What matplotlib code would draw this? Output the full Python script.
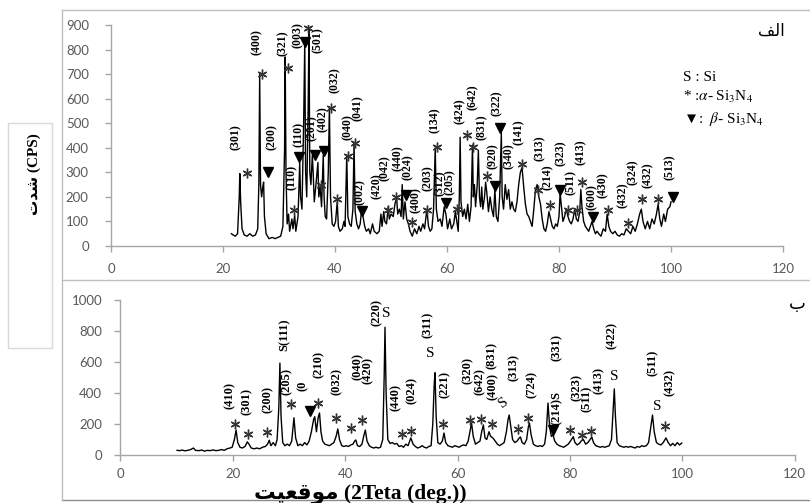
import matplotlib.pyplot as plt
from matplotlib.lines import Line2D
from matplotlib.patches import Rectangle

plt.rcParams['mathtext.fontset'] = 'stix'

# ---------------- data: pattern (a) ----------------
top_two_theta = [
    21.5, 21.8, 22.2, 22.6, 22.9, 23.0, 23.15, 23.4, 23.8, 24.3, 24.8, 25.3, 25.8, 26.2, 26.4, 26.55,
    26.7, 26.9, 27.1, 27.25, 27.4, 27.7, 28.2, 28.8, 29.3, 29.8, 30.3, 30.7, 31.0, 31.1, 31.25, 31.45,
    31.7, 31.9, 32.3, 32.5, 32.8, 33.0, 33.4, 33.7, 33.85, 34.1, 34.4, 34.6, 34.75, 34.95, 35.2, 35.35,
    35.5, 35.7, 35.95, 36.1, 36.3, 36.6, 36.95, 37.1, 37.35, 37.6, 37.9, 38.05, 38.25, 38.5, 38.8, 39.0,
    39.2, 39.5, 39.8, 40.1, 40.4, 40.6, 40.9, 41.3, 41.6, 41.8, 42.1, 42.3, 42.6, 42.9, 43.2, 43.4,
    43.6, 43.9, 44.2, 44.5, 44.8, 45.0, 45.3, 45.6, 46.0, 46.3, 46.7, 47.0, 47.5, 47.9, 48.2, 48.4,
    48.7, 48.9, 49.2, 49.5, 49.7, 50.0, 50.4, 50.7, 51.0, 51.2, 51.5, 51.8, 52.0, 52.2, 52.5, 52.8,
    53.1, 53.4, 53.8, 54.2, 54.6, 55.0, 55.3, 55.7, 56.0, 56.4, 56.7, 57.0, 57.3, 57.6, 57.9, 58.1,
    58.4, 58.8, 59.1, 59.5, 59.8, 60.1, 60.5, 60.8, 61.2, 61.5, 61.8, 62.0, 62.2, 62.35, 62.5, 62.8,
    63.1, 63.4, 63.7, 64.0, 64.3, 64.55, 64.7, 64.9, 65.1, 65.4, 65.6, 65.8, 66.0, 66.2, 66.4, 66.7,
    66.9, 67.1, 67.4, 67.7, 68.0, 68.3, 68.55, 68.8, 69.1, 69.4, 69.7, 69.85, 70.1, 70.4, 70.7, 71.0,
    71.3, 71.6, 71.9, 72.2, 72.5, 72.8, 73.1, 73.4, 73.7, 74.0, 74.3, 74.6, 74.9, 75.2, 75.5, 75.8,
    76.1, 76.4, 76.7, 77.0, 77.3, 77.6, 77.9, 78.2, 78.5, 78.8, 79.1, 79.4, 79.7, 80.0, 80.2, 80.4,
    80.7, 81.0, 81.3, 81.6, 81.9, 82.2, 82.5, 82.8, 83.1, 83.4, 83.7, 83.9, 84.1, 84.4, 84.7, 85.0,
    85.3, 85.6, 85.9, 86.2, 86.5, 86.8, 87.1, 87.5, 87.9, 88.3, 88.6, 88.9, 89.2, 89.6, 90.0, 90.4,
    90.8, 91.2, 91.6, 92.0, 92.4, 92.8, 93.2, 93.6, 94.0, 94.4, 94.7, 95.0, 95.4, 95.8, 96.2, 96.6,
    97.0, 97.4, 97.7, 98.0, 98.3, 98.7, 99.0, 99.4, 99.8, 100.0,
]
top_cps = [
    50, 45, 40, 50, 200, 295, 180, 70, 45, 40, 50, 40, 45, 70, 250, 700,
    250, 200, 240, 260, 120, 50, 30, 35, 30, 35, 40, 80, 400, 770, 300, 90,
    130, 60, 110, 70, 125, 60, 120, 340, 200, 150, 500, 830, 300, 200, 550, 890,
    300, 250, 370, 300, 180, 250, 340, 200, 240, 160, 370, 200, 120, 110, 300, 565,
    200, 90, 80, 100, 180, 80, 60, 70, 100, 80, 370, 120, 90, 80, 150, 420,
    140, 90, 70, 90, 160, 120, 80, 60, 70, 50, 90, 60, 50, 60, 130, 80,
    140, 100, 90, 160, 110, 130, 120, 170, 200, 130, 150, 120, 250, 110, 180, 110,
    90, 60, 40, 70, 50, 80, 60, 90, 70, 150, 80, 60, 70, 150, 400, 150,
    100, 110, 80, 160, 130, 70, 110, 70, 90, 140, 90, 60, 200, 443, 180, 120,
    150, 110, 170, 100, 160, 411, 200, 250, 160, 250, 390, 200, 160, 240, 150, 200,
    260, 220, 140, 200, 150, 120, 230, 120, 100, 200, 460, 200, 150, 250, 190, 230,
    150, 180, 150, 140, 180, 250, 300, 320, 240, 170, 130, 120, 100, 80, 150, 230,
    250, 200, 170, 110, 70, 60, 90, 140, 110, 80, 70, 90, 80, 120, 215, 170,
    100, 120, 150, 120, 100, 90, 110, 150, 110, 100, 140, 230, 160, 100, 80, 70,
    60, 80, 100, 70, 50, 60, 50, 40, 70, 60, 130, 80, 60, 50, 60, 45,
    40, 50, 45, 70, 60, 50, 80, 60, 90, 130, 150, 100, 70, 100, 70, 110,
    90, 130, 170, 110, 80, 130, 100, 150, 160, 180,
]
top_alpha_x = [24.3, 27.0, 31.6, 32.7, 35.2, 37.5, 39.3, 40.4, 42.3, 43.6, 49.5, 50.9, 53.8, 56.4,
               58.2, 61.7, 63.5, 64.6, 67.1, 73.4, 76.3, 78.4, 81.6, 83.2, 84.1, 88.8, 92.3, 94.8, 97.7]
top_alpha_y = [297, 700, 725, 147, 887, 248, 562, 191, 366, 419, 147, 199, 98, 147,
               405, 151, 452, 403, 285, 334, 228, 167, 147, 147, 261, 147, 94, 191, 191]
top_beta_x = [28.1, 33.6, 34.6, 36.4, 38.0, 44.8, 52.7, 59.8, 68.6, 69.5, 80.2, 86.0, 100.4]
top_beta_y = [302, 362, 830, 370, 387, 143, 208, 175, 244, 480, 228, 118, 200]
top_hkl = ['(301)', '(400)', '(200)', '(321)', '(003)', '(501)', '(110)', '(110)', '(201)', '(402)',
           '(032)', '(040)', '(041)', '(002)', '(420)', '(042)', '(440)', '(024)', '(400)', '(203)',
           '(134)', '(312)', '(205)', '(424)', '(642)', '(831)', '(920)', '(322)', '(340)', '(141)',
           '(313)', '(214)', '(323)', '(511)', '(413)', '(600)', '(430)', '(432)', '(324)', '(432)',
           '(513)']
top_hkl_x = [22.3, 26.1, 28.8, 30.7, 33.4, 37.0, 32.3, 33.6, 35.9, 37.8,
             40.0, 42.3, 44.1, 44.5, 47.5, 48.9, 51.3, 53.0, 54.4, 56.6,
             57.9, 58.8, 60.5, 62.2, 64.6, 66.2, 68.2, 68.9, 71.1, 72.9,
             76.6, 78.0, 80.4, 82.1, 83.9, 85.9, 87.9, 91.4, 93.2, 95.9,
             99.8]
top_hkl_y = [444, 830, 444, 826, 860, 840, 280, 456, 480, 517,
             676, 484, 562, 220, 244, 317, 358, 322, 187, 277,
             513, 256, 260, 550, 607, 484, 366, 582, 366, 464,
             399, 281, 378, 260, 383, 200, 248, 208, 301, 289,
             322]

# ---------------- data: pattern (b) ----------------
bot_two_theta = [
    10.1, 10.6, 11.0, 11.5, 12.0, 12.5, 13.0, 13.4, 14.0, 14.5, 15.0, 15.5, 16.0, 16.5, 17.0, 17.5,
    18.0, 18.5, 19.0, 19.5, 19.9, 20.3, 20.6, 20.9, 21.3, 21.7, 22.2, 22.6, 22.9, 23.3, 23.8, 24.3,
    24.8, 25.3, 25.8, 26.2, 26.5, 26.8, 27.2, 27.6, 27.9, 28.2, 28.4, 28.6, 28.9, 29.3, 29.7, 30.1,
    30.5, 30.9, 31.2, 31.6, 32.0, 32.4, 32.8, 33.2, 33.6, 34.0, 34.4, 34.6, 34.9, 35.2, 35.45, 35.7,
    36.0, 36.4, 36.8, 37.2, 37.6, 38.0, 38.4, 38.7, 39.0, 39.4, 39.8, 40.2, 40.6, 41.0, 41.4, 41.7,
    41.9, 42.2, 42.6, 43.0, 43.3, 43.6, 43.9, 44.3, 44.7, 45.1, 45.5, 45.9, 46.3, 46.7, 46.95, 47.1,
    47.3, 47.6, 48.0, 48.4, 48.8, 49.2, 49.6, 50.0, 50.4, 50.8, 51.2, 51.7, 52.1, 52.5, 52.9, 53.3,
    53.7, 54.1, 54.5, 54.9, 55.3, 55.6, 55.85, 56.0, 56.2, 56.5, 56.9, 57.3, 57.6, 57.9, 58.3, 58.7,
    59.1, 59.5, 59.9, 60.3, 60.7, 61.1, 61.5, 61.9, 62.2, 62.5, 62.8, 63.2, 63.6, 64.0, 64.3, 64.6,
    64.9, 65.2, 65.6, 65.9, 66.3, 66.7, 67.1, 67.5, 67.9, 68.3, 68.7, 69.0, 69.2, 69.5, 69.8, 70.2,
    70.6, 71.0, 71.2, 71.5, 71.9, 72.3, 72.6, 72.8, 73.1, 73.5, 73.9, 74.3, 74.7, 75.1, 75.5, 75.8,
    76.1, 76.4, 76.7, 77.0, 77.3, 77.7, 78.1, 78.5, 78.9, 79.3, 79.7, 80.1, 80.6, 80.9, 81.3, 81.7,
    82.0, 82.4, 82.8, 83.2, 83.6, 83.9, 84.2, 84.6, 85.0, 85.4, 85.8, 86.2, 86.6, 87.0, 87.4, 87.7,
    87.9, 88.1, 88.4, 88.8, 89.2, 89.6, 90.0, 90.4, 90.8, 91.2, 91.6, 92.0, 92.4, 92.8, 93.2, 93.6,
    94.0, 94.4, 94.7, 95.0, 95.4, 95.8, 96.2, 96.6, 97.1, 97.5, 97.9, 98.3, 98.7, 99.1, 99.5, 99.9,
]
bot_cps = [
    30, 28, 32, 27, 30, 35, 45, 30, 28, 32, 25, 30, 28, 33, 28, 30,
    35, 30, 40, 45, 50, 100, 160, 80, 50, 45, 55, 85, 70, 45, 40, 45,
    40, 50, 55, 70, 95, 60, 80, 60, 100, 300, 593, 250, 80, 60, 70, 60,
    90, 240, 110, 60, 70, 60, 80, 65, 90, 150, 230, 247, 150, 240, 271, 150,
    90, 70, 65, 60, 70, 80, 120, 168, 100, 60, 55, 60, 55, 65, 70, 90,
    97, 60, 55, 70, 120, 161, 90, 60, 50, 45, 50, 45, 50, 100, 500, 824,
    400, 100, 75, 80, 70, 75, 55, 60, 50, 70, 60, 110, 70, 55, 45, 50,
    60, 50, 45, 55, 60, 200, 450, 531, 250, 80, 70, 90, 142, 80, 60, 55,
    50, 60, 55, 50, 60, 65, 60, 90, 150, 206, 120, 70, 80, 90, 150, 194,
    110, 100, 150, 120, 110, 90, 70, 60, 70, 80, 150, 230, 258, 180, 100, 80,
    90, 110, 116, 80, 70, 100, 180, 206, 130, 70, 60, 55, 60, 55, 70, 150,
    335, 180, 120, 130, 90, 70, 60, 55, 50, 60, 70, 90, 118, 80, 65, 75,
    90, 100, 70, 80, 100, 116, 80, 60, 55, 50, 55, 50, 55, 60, 100, 300,
    426, 250, 80, 60, 55, 50, 55, 50, 55, 50, 45, 55, 50, 60, 55, 60,
    80, 180, 258, 150, 80, 70, 65, 80, 110, 80, 60, 75, 60, 80, 65, 77,
]
bot_alpha_x = [20.4, 22.7, 26.1, 30.4, 35.2, 38.4, 41.0, 43.0, 50.1, 51.7, 57.4, 62.2, 64.1, 66.1,
               70.8, 72.5, 80.0, 82.1, 83.7, 97.0]
bot_alpha_y = [200, 135, 148, 329, 335, 239, 174, 226, 135, 157, 200, 226, 232, 200,
               168, 239, 161, 129, 157, 187]
bot_beta_x = [33.8, 77.0]
bot_beta_y = [284, 161]
bot_hkl = ['(410)', '(301)', '(200)', 'S(111)', '(205)', '(0', '(210)', '(032)', '(040)', '(420)',
           '(220)', '(311)', '(440)', '(024)', '(221)', '(320)', '(642)', '(400)', '(831)', '(313)',
           '(724)', '(331)', '(214)S', '(323)', '(511)', '(413)', '(422)', '(511)', '(432)']
bot_hkl_x = [19.5, 22.5, 26.3, 29.3, 29.6, 32.5, 35.3, 38.5, 42.2, 44.1,
             45.6, 54.8, 49.1, 51.9, 57.8, 61.8, 63.9, 66.3, 66.1, 70.1,
             73.2, 77.7, 77.7, 81.3, 83.0, 85.1, 87.5, 94.8, 97.8]
bot_hkl_y = [387, 342, 355, 779, 473, 445, 581, 473, 574, 548,
             919, 839, 368, 419, 452, 548, 473, 441, 645, 565,
             452, 694, 306, 435, 361, 479, 769, 597, 465]
bot_si_x = [47.4, 55.2, 68.1, 87.9, 95.6]
bot_si_y = [916, 658, 335, 505, 312]
bot_si_rot = [0, 0, 35, 0, 0]

W, H = 810, 503
fig = plt.figure(figsize=(W / 100, H / 100), dpi=100)

serif = ['Liberation Serif', 'DejaVu Sans']
axis_grey = '#a6a6a6'
tick_grey = '#595959'


def fx(px):
    return px / W


def fy(py):
    return 1 - py / H


def style_axes(ax, ymax, ystep, ypad, xpad):
    ax.set_xlim(0, 120)
    ax.set_ylim(0, ymax)
    ax.set_xticks(range(0, 121, 20))
    ax.set_yticks(range(0, ymax + 1, ystep))
    for s in ['top', 'right']:
        ax.spines[s].set_visible(False)
    for s in ['left', 'bottom']:
        ax.spines[s].set_color(axis_grey)
        ax.spines[s].set_linewidth(1.0)
    ax.tick_params(axis='both', colors=axis_grey, labelcolor=tick_grey, length=4, width=1,
                   labelsize=9.5)
    ax.tick_params(axis='y', pad=ypad)
    ax.tick_params(axis='x', pad=xpad)
    for lab in ax.get_xticklabels() + ax.get_yticklabels():
        lab.set_fontfamily('Lato')
    ax.patch.set_alpha(0)


def draw_pattern(ax, tt, cps, ax_x, ax_y, bx, by):
    ax.plot(tt, cps, color='black', lw=1.0, zorder=2)
    ax.plot(ax_x, ax_y, linestyle='none', marker=(6, 2, 0), markersize=7,
            markeredgecolor='#333333', markeredgewidth=1.0, zorder=3)
    ax.plot(bx, by, linestyle='none', marker='v', markersize=7.5, color='black', zorder=3)


# ---- top pattern (a) ----
ax1 = fig.add_axes([fx(111), fy(246), 672 / W, 221 / H])
style_axes(ax1, 900, 100, 12, 8)
draw_pattern(ax1, top_two_theta, top_cps, top_alpha_x, top_alpha_y, top_beta_x, top_beta_y)
for t, x, y in zip(top_hkl, top_hkl_x, top_hkl_y):
    ax1.text(x, y, t, rotation=90, ha='center', va='center', fontsize=8.5,
             fontweight='bold', family=serif, zorder=4)

# legend text
fig.text(fx(683), fy(77), 'S : Si', fontsize=11, family=serif, va='center')
fig.text(fx(683), fy(97), r'* :$\alpha$- Si$_3$N$_4$', fontsize=11, family=serif, va='center')
fig.text(fx(683), fy(119), '\u25bc:  ' + r'$\beta$- Si$_3$N$_4$', fontsize=11, family=serif,
         va='center')
# panel letter (alef-lam-fe, visual order)
fig.text(fx(785), fy(32), '\ufed2\ufedf\ufe8d', fontsize=12, family=serif, ha='right',
         va='center')

# ---- bottom pattern (b) ----
ax2 = fig.add_axes([fx(120.3), fy(455), 674.4 / W, 155 / H])
style_axes(ax2, 1000, 200, 9, 5.5)
draw_pattern(ax2, bot_two_theta, bot_cps, bot_alpha_x, bot_alpha_y, bot_beta_x, bot_beta_y)
for t, x, y in zip(bot_hkl, bot_hkl_x, bot_hkl_y):
    ax2.text(x, y, t, rotation=90, ha='center', va='center', fontsize=9,
             fontweight='bold', family=serif, zorder=4)
for x, y, r in zip(bot_si_x, bot_si_y, bot_si_rot):
    ax2.text(x, y, 'S', rotation=r, ha='center', va='center', fontsize=11, family=serif, zorder=4)
fig.text(fx(797), fy(305), '\ufe8f', fontsize=13, family=serif, ha='center', va='center')

# ---- frame lines ----
frame = '#bfbfbf'
fig.add_artist(Line2D([fx(62), 1], [fy(10), fy(10)], color=frame, lw=1))
fig.add_artist(Line2D([fx(62), 1], [fy(280), fy(280)], color=frame, lw=1))
fig.add_artist(Line2D([fx(62), 1], [fy(500), fy(500)], color='#8c8c8c', lw=1))
fig.add_artist(Line2D([fx(62), fx(62)], [fy(10), fy(500)], color=frame, lw=1))

# ---- y label in its box ----
fig.add_artist(Rectangle((fx(8), fy(348)), 44 / W, 225 / H, fill=False,
                         edgecolor='#d9d9d9', lw=1))
fig.text(fx(34), fy(174), '\ufe95\ufeaa\ufeb7 (CPS)', rotation=90, ha='center', va='center',
         fontsize=11, fontweight='bold', family=serif)

# ---- x label ----
fig.text(fx(254), fy(498), '\ufe96\ufef4\ufecc\ufed7\ufeee\ufee3 (2Teta (deg.))', ha='left',
         va='baseline', fontsize=15.5, fontweight='bold', family=serif)

fig.savefig('out.png', dpi=100)
